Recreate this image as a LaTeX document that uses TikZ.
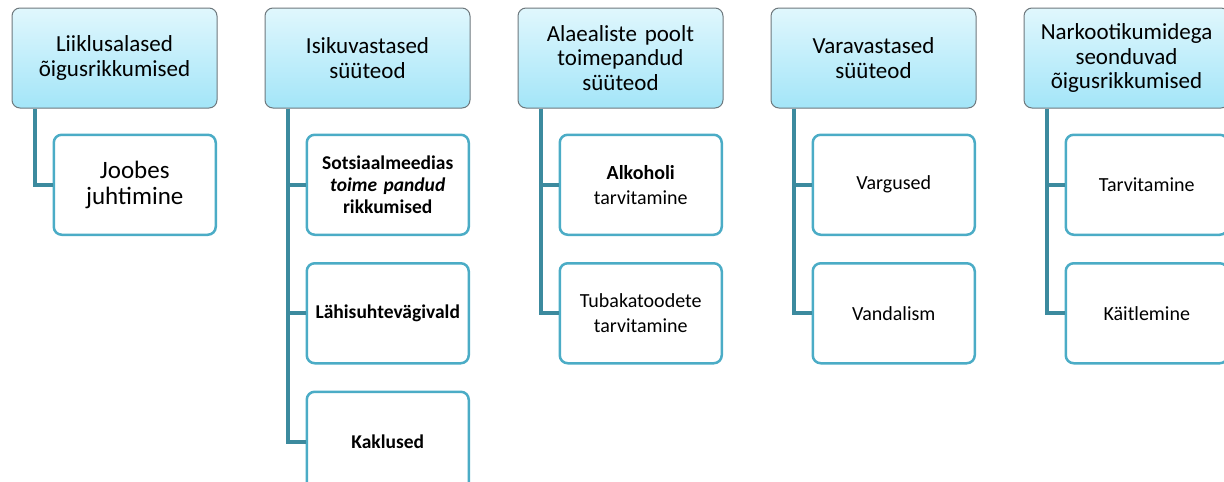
\documentclass[tikz,border=0pt]{standalone}
\usepackage{fontspec}
\setmainfont{Carlito}
\usetikzlibrary{positioning}

\definecolor{headtop}{RGB}{224,247,253}
\definecolor{headbot}{RGB}{163,229,248}
\definecolor{headline}{RGB}{110,120,125}
\definecolor{kidline}{RGB}{75,172,198}
\definecolor{connline}{RGB}{60,138,158}

\begin{document}
\begin{tikzpicture}[
		x=1pt, y=1pt,
		head/.style={
			draw=headline, line width=1pt, rounded corners=8pt,
			top color=headtop, bottom color=headbot,
			minimum width=205pt, minimum height=100pt, text width=200pt,
			align=center, inner sep=0pt,
			font=\fontsize{23}{24.5}\selectfont
		},
		kid/.style={
			draw=kidline, line width=2.5pt, rounded corners=8pt, fill=white,
			minimum width=162pt, minimum height=100pt, text width=158pt,
			align=center, inner sep=0pt,
			font=\fontsize{20}{25}\selectfont
		},
		conn/.style={draw=connline, line width=4pt}
		]
		\useasboundingbox (0,0) rectangle (1224,-482);

		% ---- Kopfzeile
		\node[head] (liiklus) at (114.5,-58) {Liiklusalased\\õigusrikkumised};
		\node[head, right=47pt of liiklus] (isiku)  {Isikuvastased\\süüteod};
		\node[head, right=47pt of isiku]   (alaeal) {Alaealiste poolt\\toimepandud\\süüteod};
		\node[head, right=47pt of alaeal]  (vara)   {Varavastased\\süüteod};
		\node[head, right=47pt of vara]    (narko)  {Narkootikumidega\\seonduvad\\õigusrikkumised};

		% ---- Unterpunkte
		\node[kid, anchor=north west, font=\fontsize{25}{26}\selectfont]
			at ([xshift=41pt, yshift=-25pt]liiklus.south west) (joobes) {Joobes\\juhtimine};

		\node[kid, anchor=north west, font=\fontsize{19.5}{22}\selectfont\bfseries]
			at ([xshift=41pt, yshift=-25pt]isiku.south west) (sots)
			{Sotsiaalmeedias\\\textit{toime pandud}\\rikkumised};
		\node[kid, below=26pt of sots, font=\fontsize{19.5}{22}\selectfont\bfseries] (lahi)  {Lähisuhtevägivald};
		\node[kid, below=26pt of lahi, font=\fontsize{19.5}{22}\selectfont\bfseries] (kakl)  {Kaklused};

		\node[kid, anchor=north west]
			at ([xshift=41pt, yshift=-25pt]alaeal.south west) (alko) {\textbf{Alkoholi}\\tarvitamine};
		\node[kid, below=26pt of alko] (tubak) {Tubakatoodete\\tarvitamine};

		\node[kid, anchor=north west]
			at ([xshift=41pt, yshift=-25pt]vara.south west) (varg) {Vargused};
		\node[kid, below=26pt of varg] (vand) {Vandalism};

		\node[kid, anchor=north west]
			at ([xshift=41pt, yshift=-25pt]narko.south west) (tarv) {Tarvitamine};
		\node[kid, below=26pt of tarv] (kait) {Käitlemine};

		% ---- Verbindungen
		\draw[conn] ([xshift=23pt]liiklus.south west) |- (joobes.west);
		\draw[conn] ([xshift=23pt]isiku.south west) |- (sots.west);
		\draw[conn] ([xshift=23pt]isiku.south west) |- (lahi.west);
		\draw[conn] ([xshift=23pt]isiku.south west) |- (kakl.west);
		\draw[conn] ([xshift=23pt]alaeal.south west) |- (alko.west);
		\draw[conn] ([xshift=23pt]alaeal.south west) |- (tubak.west);
		\draw[conn] ([xshift=23pt]vara.south west) |- (varg.west);
		\draw[conn] ([xshift=23pt]vara.south west) |- (vand.west);
		\draw[conn] ([xshift=23pt]narko.south west) |- (tarv.west);
		\draw[conn] ([xshift=23pt]narko.south west) |- (kait.west);
	\end{tikzpicture}
\end{document}
